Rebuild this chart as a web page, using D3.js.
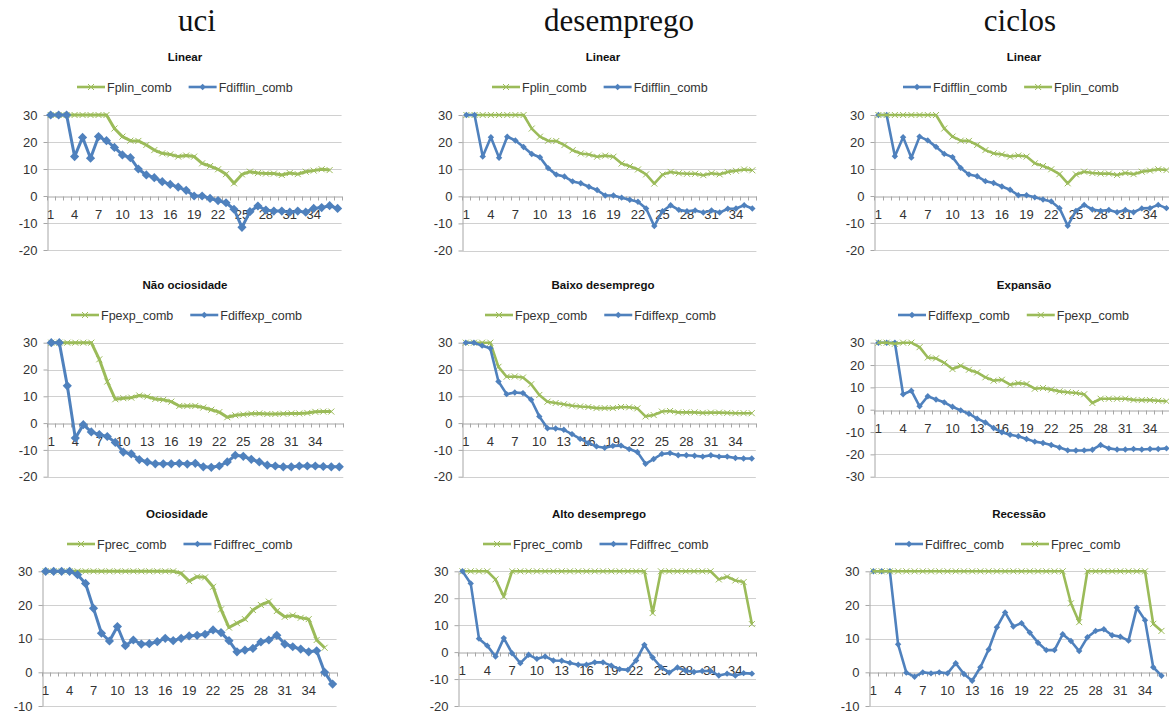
<!DOCTYPE html>
<html>
<head>
<meta charset="utf-8">
<script src="https://cdn.jsdelivr.net/npm/d3@7"></script>
<style>
  body { margin: 0; background: #fff; }
  svg { display: block; }
</style>
</head>
<body>
<svg id="chart" width="1169" height="713"></svg>
<script>
// ---- categories and tick labels ----
const categories = [1,2,3,4,5,6,7,8,9,10,11,12,13,14,15,16,17,18,19,20,21,22,23,24,25,26,27,28,29,30,31,32,33,34,35,36,37];
const xTickLabels = [1,4,7,10,13,16,19,22,25,28,31,34];
const yTicksA = [-20,-10,0,10,20,30];
const yTicksB = [-30,-20,-10,0,10,20,30];
const yTicksC = [-10,0,10,20,30];
const columnHeaders = ["uci", "desemprego", "ciclos"];

// ---- series values ----
// Linear (shared forecast series)
const fplinComb = [30,30,30,30,30,30,30,30,25,22,20.5,20.4,18.9,17,15.8,15.4,14.6,15,14.6,12.1,11.1,9.9,8.1,4.7,8,9,8.5,8.3,8.3,7.8,8.5,8.1,9,9.4,9.9,9.6];
const fdifflinCombUci = [30,30,30,14.6,21.7,14,22,20.5,18,15.2,14.2,10,7.8,6.8,5.3,4.3,3.3,2.1,0,0,-0.9,-1.7,-2.5,-4.9,-11.6,-5.8,-3.7,-5.2,-5.6,-5.6,-6,-5.6,-6,-4.6,-4.3,-3.6,-4.6];
const fdifflinComb = [30,30,14.7,21.8,14.2,22,20.6,18.2,15.6,14.4,10.4,8,7.3,5.5,4.8,3.5,2.3,0.3,0.3,-0.5,-1.3,-2,-4.5,-11,-5.5,-3.3,-5,-5.5,-5.2,-6,-5.2,-6,-4.6,-4.5,-3.3,-4.5];

// Expansion regime
const fpexpUci = [30,30,30,30,30,30,23.8,15.5,8.9,9.3,9.5,10.3,9.9,9,8.7,8,6.4,6.4,6.4,5.8,5,4.1,2.2,2.9,3.2,3.5,3.6,3.4,3.4,3.5,3.6,3.6,3.8,4.2,4.3,4.3];
const fdiffexpUci = [30,30,13.9,-5.6,-0.6,-3.3,-4.3,-5,-7.2,-10.8,-11.5,-13.6,-14.5,-15.2,-15.2,-15.2,-15,-15.3,-15,-16.3,-16.5,-16,-14.5,-12,-12.4,-13.5,-14.5,-15.7,-16,-16.3,-16.3,-16,-16,-16,-16.2,-16.3,-16.3];
const fpexpDes = [30,30,30,30,21,17.3,17.4,17,14.5,10.5,8,7.5,7,6.5,6.2,6,5.6,5.6,5.6,6,5.9,5.5,2.5,3,4.3,4.5,4,4,4,3.8,3.9,3.9,3.8,3.7,3.7,3.7];
const fdiffexpDes = [30,30,28.9,27.9,15.5,10.8,11.4,11.2,8.7,2.5,-1.9,-2,-2.5,-4.1,-5.9,-7.4,-8.7,-9.2,-8.5,-8.4,-9.7,-10.8,-15.2,-13.4,-11.5,-11.2,-12,-12,-12.2,-12.5,-12,-12.5,-12.5,-13,-13.2,-13.2];
const fdiffexpCic = [30,30,30,6.9,8.5,1.5,6,4.6,3.3,1.3,-0.3,-1.8,-4,-5.7,-8.2,-10.1,-11.2,-11.9,-13.1,-14.3,-14.9,-15.8,-16.9,-18.2,-18.3,-18.2,-17.9,-15.8,-17.3,-17.8,-17.8,-17.6,-17.8,-17.6,-17.6,-17.3];
const fpexpCic = [30,30,29.5,30,30,28,23.4,23,21,18.2,19.7,17.9,16.7,14.5,13,13.4,11.2,11.9,11.5,9.4,9.7,9,8.2,7.8,7.5,6.9,3,4.9,4.9,4.9,4.9,4.4,4.3,4.3,4,3.8];

// Recession regime
const fprecUci = [30,30,30,30,30,30,30,30,30,30,30,30,30,30,30,30,30,29.4,27.1,28.4,28.2,25.4,18.7,13.3,14.6,15.8,18.5,20,21,18.2,16.5,16.9,16.2,15.8,9.6,7.3];
const fdiffrecUci = [30,30,30,30,29,26.4,19,11.6,9.3,13.6,7.9,9.6,8.4,8.5,9.1,10.1,9.4,10.1,10.8,11,11.3,12.6,11.8,9.4,6.1,6.6,7.1,9,9.6,11,8.4,7.6,6.9,6.1,6.4,0,-3.5];
const fprecDes = [30,30,30,30,27,20.6,30,30,30,30,30,30,30,30,30,30,30,30,30,30,30,30,30,14.5,30,30,30,30,30,30,30,27,28,26.6,26,10.4];
const fdiffrecDes = [30,25.5,5,2.4,-1.6,5.2,-0.4,-4.1,-1,-2.5,-1.6,-3.1,-3.2,-4,-4.7,-4.7,-3.8,-3.8,-5,-6.3,-6.6,-3.1,2.7,-2,-5.6,-7.6,-5.7,-6.9,-7.4,-7,-7,-8.7,-8,-8.7,-7.8,-8];
const fdiffrecCic = [30,30,30,8.3,-0.1,-1.3,0,-0.3,0,-0.3,2.7,-0.5,-2.5,1.5,6.8,13.4,17.8,13.6,14.6,11.8,8.8,6.6,6.6,11.3,9.3,6.3,10.4,12.3,12.8,11,10.6,9.4,19.2,15.5,1.5,-1];
const fprecCic = [30,30,30,30,30,30,30,30,30,30,30,30,30,30,30,30,30,30,30,30,30,30,30,30,20.5,14.9,30,30,30,30,30,30,30,30,14.4,12.3];

// ---- styling ----
const BLUE = "#4F81BD";
const GREEN = "#9BBB59";
const GRID = "#D0D0D0";
const AXIS = "#A6A6A6";
const TEXT = "#333";

const svg = d3.select("#chart");

// column headers
const headerX = [197, 619, 1020];
svg.selectAll("text.header").data(columnHeaders).join("text")
  .attr("class", "header")
  .attr("x", (d, i) => headerX[i]).attr("y", 31)
  .attr("text-anchor", "middle")
  .attr("font-family", "'Liberation Serif', 'Times New Roman', serif")
  .attr("font-size", 31).attr("fill", "#111")
  .text(d => d);

// marker paths
const diamond = r => `M0,${-r}L${r},0L0,${r}L${-r},0Z`;
const cross = r => `M${-r},${-r}L${r},${r}M${-r},${r}L${r},${-r}`;

function drawMarker(sel, kind, big) {
  if (kind === "diamond") {
    sel.attr("d", diamond(big ? 4.6 : 3.2)).attr("fill", BLUE).attr("stroke", "none");
  } else {
    sel.attr("d", cross(3)).attr("fill", "none").attr("stroke", GREEN).attr("stroke-width", 1);
  }
}

function panel(p) {
  const cats = categories.slice(0, p.n);
  const x = d3.scaleBand().domain(cats).range([p.left, p.left + p.n * p.band]).padding(0);
  const y = d3.scaleLinear().domain([p.ticks[0], p.ticks[p.ticks.length - 1]]).range([p.bottom, p.top]);
  const right = p.left + p.n * p.band;
  const g = svg.append("g");

  // title
  g.append("text").attr("x", p.titleX).attr("y", p.titleY)
    .attr("text-anchor", "middle")
    .attr("font-family", "'Liberation Sans', Arial, sans-serif")
    .attr("font-weight", "bold").attr("font-size", 11.5).attr("fill", "#111")
    .text(p.title);

  // horizontal gridlines
  g.append("g").selectAll("line").data(p.ticks.filter(t => t !== 0)).join("line")
    .attr("x1", p.left).attr("x2", right)
    .attr("y1", d => Math.round(y(d)) + 0.5).attr("y2", d => Math.round(y(d)) + 0.5)
    .attr("stroke", GRID).attr("stroke-width", 1);

  // value axis
  const ya = g.append("g").attr("transform", `translate(${Math.round(p.left) + 0.5},0)`)
    .call(d3.axisLeft(y).tickValues(p.ticks).tickSize(4).tickSizeOuter(0).tickPadding(6).tickFormat(d => String(d)));
  ya.select(".domain").attr("stroke", AXIS);
  ya.selectAll(".tick line").attr("stroke", AXIS);
  ya.selectAll(".tick text").attr("font-family", "'Liberation Sans', Arial, sans-serif")
    .attr("font-size", 13).attr("fill", TEXT);

  // category axis crossing at zero
  const y0 = Math.round(y(0)) + 0.5;
  const xa = g.append("g").attr("transform", `translate(0,${y0})`)
    .call(d3.axisBottom(x).tickValues(xTickLabels.filter(c => c <= p.n)).tickSize(0).tickSizeOuter(0).tickPadding(13));
  xa.select(".domain").attr("stroke", AXIS);
  xa.selectAll(".tick text").attr("font-family", "'Liberation Sans', Arial, sans-serif")
    .attr("font-size", 13).attr("fill", TEXT);
  // tick marks at category boundaries
  const bounds = cats.map(c => x(c)).concat([right]);
  g.append("g").selectAll("line").data(bounds).join("line")
    .attr("x1", d => Math.round(d) + 0.5).attr("x2", d => Math.round(d) + 0.5)
    .attr("y1", y0).attr("y2", y0 + 4).attr("stroke", AXIS);

  // series
  const cx = i => x(cats[i]) + x.bandwidth() / 2;
  const line = d3.line().x((d, i) => cx(i)).y(d => y(d));
  p.series.forEach(s => {
    const color = s.kind === "diamond" ? BLUE : GREEN;
    const sg = g.append("g");
    sg.append("path").datum(s.values).attr("d", line)
      .attr("fill", "none").attr("stroke", color)
      .attr("stroke-width", p.big ? 3 : 2.6).attr("stroke-linejoin", "round");
    sg.selectAll("path.m").data(s.values).join("path").attr("class", "m")
      .attr("transform", (d, i) => `translate(${cx(i)},${y(d)})`)
      .call(sel => drawMarker(sel, s.kind, p.big));
  });

  // legend
  let lx = p.legendX;
  p.series.forEach(s => {
    const color = s.kind === "diamond" ? BLUE : GREEN;
    const lg = g.append("g");
    lg.append("line").attr("x1", lx).attr("x2", lx + 28).attr("y1", p.legendY).attr("y2", p.legendY)
      .attr("stroke", color).attr("stroke-width", 2.6);
    lg.append("path").attr("transform", `translate(${lx + 14},${p.legendY})`)
      .call(sel => drawMarker(sel, s.kind, false));
    const t = lg.append("text").attr("x", lx + 30).attr("y", p.legendY + 4.5)
      .attr("font-family", "'Liberation Sans', Arial, sans-serif")
      .attr("font-size", 12.5).attr("fill", TEXT).text(s.name);
    lx += 30 + t.node().getComputedTextLength() + 17;
  });
}

const panels = [
  // row 1: Linear
  { title: "Linear", titleX: 185, titleY: 61, legendX: 77, legendY: 87, left: 46.7, band: 7.97, n: 37, top: 115, bottom: 250, ticks: yTicksA, big: true,
    series: [{ name: "Fplin_comb", kind: "cross", values: fplinComb }, { name: "Fdifflin_comb", kind: "diamond", values: fdifflinCombUci }] },
  { title: "Linear", titleX: 603, titleY: 61, legendX: 492, legendY: 87, left: 462.3, band: 8.17, n: 36, top: 115, bottom: 250.5, ticks: yTicksA, big: false,
    series: [{ name: "Fplin_comb", kind: "cross", values: fplinComb }, { name: "Fdifflin_comb", kind: "diamond", values: fdifflinComb }] },
  { title: "Linear", titleX: 1024, titleY: 61, legendX: 903, legendY: 87, left: 874.3, band: 8.23, n: 36, top: 115, bottom: 250, ticks: yTicksA, big: false,
    series: [{ name: "Fdifflin_comb", kind: "diamond", values: fdifflinComb }, { name: "Fplin_comb", kind: "cross", values: fplinComb }] },
  // row 2: expansion
  { title: "Não ociosidade", titleX: 185, titleY: 289, legendX: 71, legendY: 315, left: 47.3, band: 8.0, n: 37, top: 342.7, bottom: 476.7, ticks: yTicksA, big: true,
    series: [{ name: "Fpexp_comb", kind: "cross", values: fpexpUci }, { name: "Fdiffexp_comb", kind: "diamond", values: fdiffexpUci }] },
  { title: "Baixo desemprego", titleX: 603, titleY: 289, legendX: 485, legendY: 315, left: 461.7, band: 8.17, n: 36, top: 342.7, bottom: 476.7, ticks: yTicksA, big: false,
    series: [{ name: "Fpexp_comb", kind: "cross", values: fpexpDes }, { name: "Fdiffexp_comb", kind: "diamond", values: fdiffexpDes }] },
  { title: "Expansão", titleX: 1024, titleY: 289, legendX: 898, legendY: 315, left: 874.3, band: 8.23, n: 36, top: 342.7, bottom: 476.7, ticks: yTicksB, big: false,
    series: [{ name: "Fdiffexp_comb", kind: "diamond", values: fdiffexpCic }, { name: "Fpexp_comb", kind: "cross", values: fpexpCic }] },
  // row 3: recession
  { title: "Ociosidade", titleX: 177, titleY: 518, legendX: 67, legendY: 544, left: 41.7, band: 7.97, n: 37, top: 571.3, bottom: 706, ticks: yTicksC, big: true,
    series: [{ name: "Fprec_comb", kind: "cross", values: fprecUci }, { name: "Fdiffrec_comb", kind: "diamond", values: fdiffrecUci }] },
  { title: "Alto desemprego", titleX: 599, titleY: 518, legendX: 483, legendY: 544, left: 458.3, band: 8.27, n: 36, top: 571.3, bottom: 706, ticks: yTicksA, big: false,
    series: [{ name: "Fprec_comb", kind: "cross", values: fprecDes }, { name: "Fdiffrec_comb", kind: "diamond", values: fdiffrecDes }] },
  { title: "Recessão", titleX: 1019, titleY: 518, legendX: 895, legendY: 544, left: 869.3, band: 8.23, n: 36, top: 571.3, bottom: 706, ticks: yTicksC, big: false,
    series: [{ name: "Fdiffrec_comb", kind: "diamond", values: fdiffrecCic }, { name: "Fprec_comb", kind: "cross", values: fprecCic }] }
];

panels.forEach(panel);
</script>
</body>
</html>
